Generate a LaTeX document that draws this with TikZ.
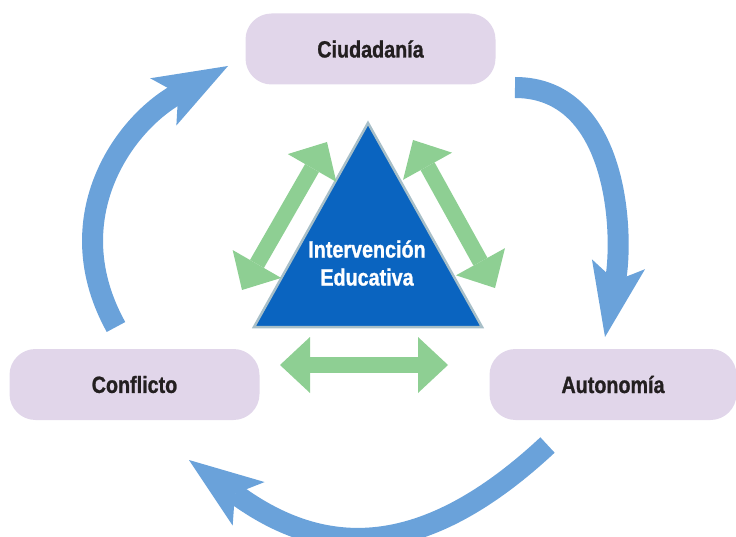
\documentclass[tikz,border=0pt]{standalone}
\usepackage{fontspec}
\usetikzlibrary{arrows.meta}
\newfontfamily\cyclefont[FakeStretch=0.84, BoldFeatures={FakeBold=1}]{Liberation Sans}
\definecolor{boxlilac}{HTML}{E1D6EA}
\definecolor{cycleblue}{HTML}{6AA2DA}
\definecolor{linkgreen}{HTML}{8ECF93}
\definecolor{coreblue}{HTML}{0A64C0}
\definecolor{coreedge}{HTML}{A8BFC8}
\definecolor{labelink}{HTML}{231F20}

\begin{document}
\begin{tikzpicture}[x=1pt,y=1pt,
  stagebox/.style={fill=boxlilac, rounded corners=26pt, minimum width=250pt,
    minimum height=71pt, text=labelink,
    font=\cyclefont\bfseries\fontsize{23.5}{28}\selectfont},
  cyclearrow/.style={draw=cycleblue, line width=21pt,
    arrows={-Stealth[length=74pt,width=54pt,inset=17pt,line width=0pt]}},
  linkarrow/.style={draw=linkgreen, line width=16pt,
    arrows={Triangle[length=30pt,width=56pt,line width=0pt]-Triangle[length=30pt,width=56pt,line width=0pt]}}]
\useasboundingbox (0,0) rectangle (736,-537);

\node[stagebox] (ciud) at (370.5,-49) {Ciudadanía};
\node[stagebox] (conf) at (134.5,-384.5) {Conflicto};
\node[stagebox, minimum width=247pt] (auto) at (613,-384.5) {Autonomía};

\draw[fill=coreblue, draw=coreedge, line width=2.5pt, line join=miter]
  (368,-123) -- (482,-327) -- (254,-327) -- cycle;
\node[text=white, align=center, font=\cyclefont\bfseries\fontsize{23.5}{28}\selectfont]
  (core) at (367,-263) {Intervención\\Educativa};

\coordinate (conf-out) at (116,-327);
\coordinate (ciud-in) at (228,-66);
\coordinate (ciud-out) at (515,-87.5);
\coordinate (auto-in) at (605,-337);
\coordinate (auto-out) at (547.5,-445);
\coordinate (conf-in) at (189,-460);

\draw[cyclearrow] (conf-out) to[out=119,in=209,looseness=1.1] (ciud-in);
\draw[cyclearrow] (ciud-out) to[out=0,in=79.5] (auto-in);
\draw[cyclearrow] (auto-out) to[out=223,in=-36.3,looseness=1.2] (conf-in);

\coordinate (left-lo) at (242,-290);
\coordinate (left-hi) at (327,-142);
\coordinate (right-hi) at (413,-140);
\coordinate (right-lo) at (495,-288);
\coordinate (base-l) at (280,-365);
\coordinate (base-r) at (448,-365);

\draw[linkarrow] (left-lo) -- (left-hi);
\draw[linkarrow] (right-hi) -- (right-lo);
\draw[linkarrow] (base-l) -- (base-r);
\end{tikzpicture}
\end{document}
